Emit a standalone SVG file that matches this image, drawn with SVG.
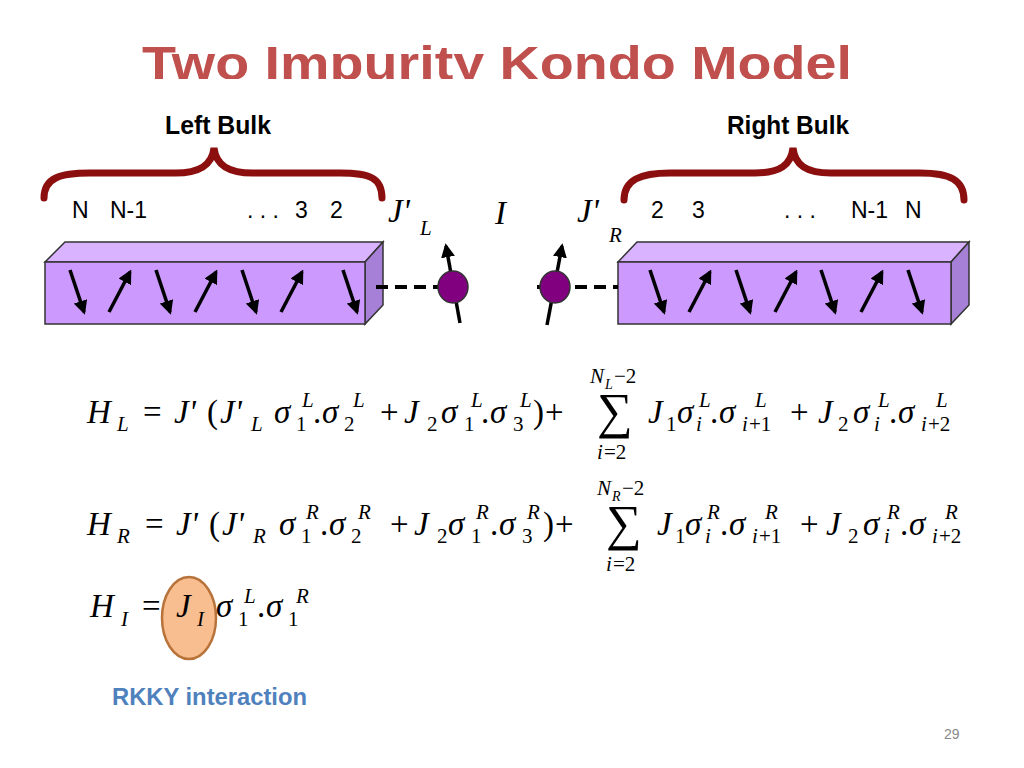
<svg xmlns="http://www.w3.org/2000/svg" width="1024" height="768" viewBox="0 0 1024 768">
<defs>
<marker id="ah" viewBox="0 0 10 10" refX="8" refY="5" markerWidth="4" markerHeight="4" orient="auto"><path d="M0,0 L10,5 L0,10 z" fill="#000"/></marker>
<clipPath id="tc"><rect x="0" y="0" width="1024" height="79"/></clipPath>
<style>
.m{font-family:"Liberation Serif",serif;font-style:italic;font-size:33px;fill:#000}
.r{font-style:normal}
.s{font-size:21px}
.t{font-size:14px}
.g{font-size:50px;font-style:normal}
.lab{font-family:"Liberation Sans",sans-serif;font-size:23px;fill:#000}
.bulk{font-family:"Liberation Sans",sans-serif;font-weight:bold;font-size:25px;fill:#000}
.spin{stroke:#000;stroke-width:3.5;marker-end:url(#ah)}
.front{fill:#cc99ff;stroke:#333;stroke-width:1.5}
.top{fill:#d9b3ff;stroke:#333;stroke-width:1.5}
.side{fill:#a67fd6;stroke:#333;stroke-width:1.5}
.brace{fill:none;stroke:#8b0f0f;stroke-width:7;stroke-linecap:round}
</style>
</defs>
<rect width="1024" height="768" fill="#fff"/>
<text x="142" y="80" clip-path="url(#tc)" font-family="Liberation Sans,sans-serif" font-weight="bold" font-size="48" fill="#c0504d" textLength="710" lengthAdjust="spacingAndGlyphs">Two Impurity Kondo Model</text>

<g id="left-bulk">
<path class="brace" d="M44,198 C44,178 60,173 90,173 L175,173 C200,173 212,165 214,148 C216,165 228,173 253,173 L340,173 C370,173 382,178 382,198"/>
<text class="bulk" x="218" y="134" text-anchor="middle" textLength="106" lengthAdjust="spacingAndGlyphs">Left Bulk</text>
<text class="lab" x="72" y="218">N</text><text class="lab" x="110" y="218">N-1</text>
<text class="lab" x="247" y="218">. . .</text><text class="lab" x="295" y="218">3</text><text class="lab" x="330" y="218">2</text>
<polygon class="top" points="45,262 65,242 383,242 365,262"/>
<polygon class="side" points="365,262 383,242 383,305 365,324"/>
<rect class="front" x="45" y="262" width="320" height="62"/>
<line class="spin" x1="70" y1="270" x2="84" y2="312"/>
<line class="spin" x1="109" y1="312" x2="130" y2="272"/>
<line class="spin" x1="156" y1="270" x2="170" y2="312"/>
<line class="spin" x1="195" y1="312" x2="216" y2="272"/>
<line class="spin" x1="242" y1="270" x2="256" y2="312"/>
<line class="spin" x1="281" y1="312" x2="302" y2="272"/>
<line class="spin" x1="343" y1="270" x2="357" y2="312"/>
</g>

<g id="right-bulk">
<path class="brace" d="M624,200 C624,180 640,173 670,173 L755,173 C780,173 791,165 793,148 C795,165 806,173 831,173 L920,173 C950,173 964,180 964,200"/>
<text class="bulk" x="788" y="134" text-anchor="middle" textLength="122" lengthAdjust="spacingAndGlyphs">Right Bulk</text>
<text class="lab" x="651" y="218">2</text><text class="lab" x="692" y="218">3</text>
<text class="lab" x="784" y="218">. . .</text><text class="lab" x="851" y="218">N-1</text><text class="lab" x="905" y="218">N</text>
<polygon class="top" points="618,262 637,242 969,242 951,262"/>
<polygon class="side" points="951,262 969,242 969,305 951,324"/>
<rect class="front" x="618" y="262" width="333" height="62"/>
<line class="spin" x1="650" y1="270" x2="664" y2="312"/>
<line class="spin" x1="689" y1="312" x2="710" y2="272"/>
<line class="spin" x1="736" y1="270" x2="750" y2="312"/>
<line class="spin" x1="775" y1="312" x2="796" y2="272"/>
<line class="spin" x1="821" y1="270" x2="835" y2="312"/>
<line class="spin" x1="861" y1="312" x2="882" y2="272"/>
<line class="spin" x1="908" y1="270" x2="922" y2="312"/>
</g>

<g id="connectors">
<line x1="376" y1="287" x2="470" y2="287" stroke="#000" stroke-width="4" stroke-dasharray="12,7"/>
<line x1="537" y1="287" x2="618" y2="287" stroke="#000" stroke-width="4" stroke-dasharray="12,7"/>
</g>

<g id="impurity-left">
<line class="spin" x1="460" y1="323" x2="446" y2="246"/>
<ellipse cx="453" cy="287" rx="15" ry="16" fill="#800080" stroke="#333" stroke-width="1.5"/>
</g>
<g id="impurity-right">
<line class="spin" x1="547" y1="325" x2="562" y2="246"/>
<ellipse cx="555" cy="287" rx="15" ry="16" fill="#800080" stroke="#333" stroke-width="1.5"/>
</g>

<text class="m" x="388" y="222">J'</text><text class="m s" x="420" y="235">L</text>
<text class="m" x="495" y="224">I</text>
<text class="m" x="577" y="222">J'</text><text class="m s" x="609" y="242">R</text>

<g id="eq-HL">
<text class="m" x="87" y="423">H</text><text class="m s" x="117" y="431">L</text>
<text class="m r" x="143" y="423">=</text>
<text class="m" x="174" y="423">J'</text><text class="m r" x="207" y="423">(</text>
<text class="m" x="220" y="423">J'</text><text class="m s" x="251" y="431">L</text>
<text class="m" x="274" y="423">σ</text><text class="m s r" x="296" y="431">1</text><text class="m s" x="302" y="407">L</text>
<text class="m r" x="313" y="423">.</text><text class="m" x="322" y="423">σ</text><text class="m s r" x="344" y="431">2</text><text class="m s" x="353" y="407">L</text>
<text class="m r" x="380" y="423">+</text>
<text class="m" x="404" y="423">J</text><text class="m s r" x="427" y="431">2</text>
<text class="m" x="441" y="423">σ</text><text class="m s r" x="464" y="431">1</text><text class="m s" x="471" y="407">L</text>
<text class="m r" x="481" y="423">.</text><text class="m" x="490" y="423">σ</text><text class="m s r" x="513" y="431">3</text><text class="m s" x="520" y="407">L</text>
<text class="m r" x="533" y="423">)</text><text class="m r" x="545" y="423">+</text>
<text class="m g" x="597" y="428">∑</text>
<text class="m s" x="590" y="383">N</text><text class="m t" x="605" y="389">L</text><text class="m s r" x="614" y="383">−2</text>
<text class="m s" x="597" y="459">i</text><text class="m s r" x="604" y="459">=2</text>
<text class="m" x="648" y="423">J</text><text class="m s r" x="666" y="431">1</text>
<text class="m" x="677" y="423">σ</text><text class="m s" x="696" y="431">i</text><text class="m s" x="699" y="407">L</text>
<text class="m r" x="710" y="423">.</text><text class="m" x="719" y="423">σ</text><text class="m s" x="742" y="431">i</text><text class="m s r" x="749" y="431">+1</text><text class="m s" x="755" y="407">L</text>
<text class="m r" x="790" y="423">+</text>
<text class="m" x="818" y="423">J</text><text class="m s r" x="838" y="431">2</text>
<text class="m" x="853" y="423">σ</text><text class="m s" x="874" y="431">i</text><text class="m s" x="878" y="407">L</text>
<text class="m r" x="889" y="423">.</text><text class="m" x="898" y="423">σ</text><text class="m s" x="921" y="431">i</text><text class="m s r" x="928" y="431">+2</text><text class="m s" x="936" y="407">L</text>
</g>

<g id="eq-HR">
<text class="m" x="87" y="535">H</text><text class="m s" x="117" y="543">R</text>
<text class="m r" x="145" y="535">=</text>
<text class="m" x="176" y="535">J'</text><text class="m r" x="209" y="535">(</text>
<text class="m" x="222" y="535">J'</text><text class="m s" x="253" y="543">R</text>
<text class="m" x="279" y="535">σ</text><text class="m s r" x="301" y="543">1</text><text class="m s" x="306" y="519">R</text>
<text class="m r" x="320" y="535">.</text><text class="m" x="329" y="535">σ</text><text class="m s r" x="351" y="543">2</text><text class="m s" x="358" y="519">R</text>
<text class="m r" x="390" y="535">+</text>
<text class="m" x="414" y="535">J</text><text class="m s r" x="437" y="543">2</text>
<text class="m" x="448" y="535">σ</text><text class="m s r" x="471" y="543">1</text><text class="m s" x="476" y="519">R</text>
<text class="m r" x="490" y="535">.</text><text class="m" x="499" y="535">σ</text><text class="m s r" x="522" y="543">3</text><text class="m s" x="527" y="519">R</text>
<text class="m r" x="543" y="535">)</text><text class="m r" x="555" y="535">+</text>
<text class="m g" x="606" y="540">∑</text>
<text class="m s" x="597" y="495">N</text><text class="m t" x="612" y="501">R</text><text class="m s r" x="622" y="495">−2</text>
<text class="m s" x="606" y="571">i</text><text class="m s r" x="613" y="571">=2</text>
<text class="m" x="657" y="535">J</text><text class="m s r" x="675" y="543">1</text>
<text class="m" x="685" y="535">σ</text><text class="m s" x="705" y="543">i</text><text class="m s" x="707" y="519">R</text>
<text class="m r" x="720" y="535">.</text><text class="m" x="729" y="535">σ</text><text class="m s" x="752" y="543">i</text><text class="m s r" x="759" y="543">+1</text><text class="m s" x="765" y="519">R</text>
<text class="m r" x="800" y="535">+</text>
<text class="m" x="826" y="535">J</text><text class="m s r" x="848" y="543">2</text>
<text class="m" x="863" y="535">σ</text><text class="m s" x="884" y="543">i</text><text class="m s" x="887" y="519">R</text>
<text class="m r" x="900" y="535">.</text><text class="m" x="909" y="535">σ</text><text class="m s" x="932" y="543">i</text><text class="m s r" x="939" y="543">+2</text><text class="m s" x="945" y="519">R</text>
</g>

<g id="eq-HI">
<ellipse cx="189" cy="618" rx="27" ry="41" fill="#f9be8f" stroke="#b8733b" stroke-width="2.5"/>
<text class="m" x="90" y="617">H</text><text class="m s" x="121" y="626">I</text>
<text class="m r" x="142" y="617">=</text>
<text class="m" x="176" y="617">J</text><text class="m s" x="197" y="626">I</text>
<text class="m" x="216" y="617">σ</text><text class="m s r" x="238" y="626">1</text><text class="m s" x="244" y="603">L</text>
<text class="m r" x="257" y="617">.</text><text class="m" x="266" y="617">σ</text><text class="m s r" x="288" y="626">1</text><text class="m s" x="296" y="603">R</text>
</g>

<text x="112" y="705" font-family="Liberation Sans,sans-serif" font-weight="bold" font-size="23" fill="#4f81bd" textLength="195" lengthAdjust="spacingAndGlyphs">RKKY interaction</text>
<text x="944" y="739" font-family="Liberation Sans,sans-serif" font-size="14" fill="#888">29</text>
</svg>
